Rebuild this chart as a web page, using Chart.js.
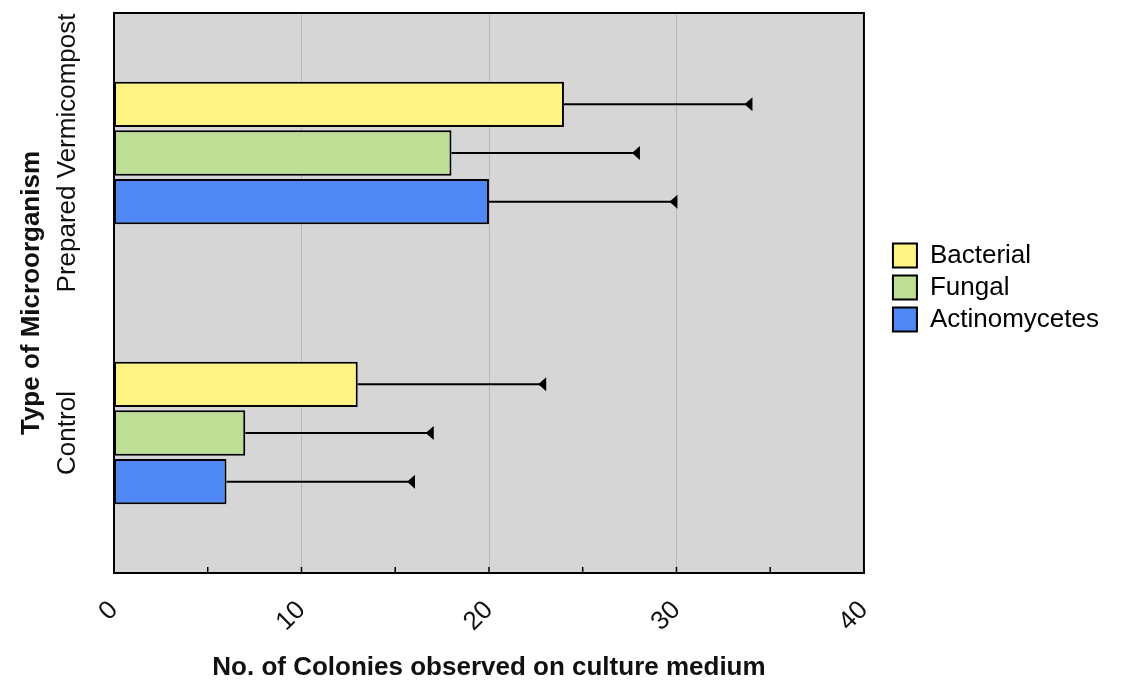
<!DOCTYPE html>
<html>
<head>
<meta charset="utf-8">
<script src="https://cdn.jsdelivr.net/npm/chart.js@4"></script>
<style>
  html, body { margin: 0; padding: 0; background: #ffffff; }
  #wrap { width: 1121px; height: 684px; }
</style>
</head>
<body>
<div id="wrap"><canvas id="c" width="1121" height="684"></canvas></div>
<script>
// Sample categories and colony counts per microorganism type
const categories = ['Prepared Vermicompost', 'Control'];
const seriesNames = ['Bacterial', 'Fungal', 'Actinomycetes'];
const bacterial = [24, 13];
const fungal = [18, 7];
const actinomycetes = [20, 6];
// Upper error values (one-sided)
const bacterialErr = [10, 10];
const fungalErr = [10, 10];
const actinomycetesErr = [10, 10];
const xTicks = [0, 10, 20, 30, 40];
const minorTicks = [5, 15, 25, 35];

const FONT = "'Liberation Sans', Arial, Helvetica, sans-serif";
const colors = ['#fff383', '#bedd95', '#4f87f5'];
const errors = [bacterialErr, fungalErr, actinomycetesErr];

// nudge the legend block next to the plot
const legendNudge = {
  id: 'legendNudge',
  afterLayout(chart) {
    const lg = chart.legend;
    if (!lg) return;
    lg.left += 23; lg.right += 23;
    lg.top -= 61; lg.bottom -= 61;
  }
};

const plotDecor = {
  id: 'plotDecor',
  beforeDatasetsDraw(chart) {
    const { ctx, chartArea: a } = chart;
    ctx.save();
    ctx.fillStyle = '#d6d6d6';
    ctx.fillRect(a.left, a.top, a.right - a.left, a.bottom - a.top);
    // grid lines at labelled ticks
    const xs = chart.scales.x;
    ctx.strokeStyle = '#b8b8b8';
    ctx.lineWidth = 1;
    xTicks.slice(1, -1).forEach(v => {
      const px = Math.round(xs.getPixelForValue(v)) + 0.5;
      ctx.beginPath(); ctx.moveTo(px, a.top); ctx.lineTo(px, a.bottom); ctx.stroke();
    });
    ctx.restore();
  },
  afterDatasetsDraw(chart) {
    const { ctx, chartArea: a } = chart;
    const xs = chart.scales.x;
    const ys = chart.scales.y;
    ctx.save();
    // error bars with left-pointing caps
    chart.data.datasets.forEach((ds, i) => {
      const meta = chart.getDatasetMeta(i);
      meta.data.forEach((bar, j) => {
        const x0 = xs.getPixelForValue(ds.data[j]);
        const x1 = xs.getPixelForValue(ds.data[j] + errors[i][j]);
        const y = bar.y;
        ctx.strokeStyle = '#000';
        ctx.lineWidth = 2;
        ctx.beginPath(); ctx.moveTo(x0, y); ctx.lineTo(x1, y); ctx.stroke();
        ctx.fillStyle = '#000';
        ctx.beginPath();
        ctx.moveTo(x1 + 1, y - 7);
        ctx.lineTo(x1 + 1, y + 7);
        ctx.lineTo(x1 - 7, y);
        ctx.closePath();
        ctx.fill();
      });
    });
    // tick marks on the bottom axis
    ctx.strokeStyle = '#000';
    ctx.lineWidth = 1.5;
    xTicks.concat(minorTicks).forEach(v => {
      const px = xs.getPixelForValue(v);
      ctx.beginPath(); ctx.moveTo(px, a.bottom); ctx.lineTo(px, a.bottom - 6); ctx.stroke();
    });
    // frame
    ctx.lineWidth = 2;
    ctx.strokeStyle = '#000';
    ctx.strokeRect(a.left, a.top, a.right - a.left, a.bottom - a.top);
    // category labels, rotated
    ctx.fillStyle = '#111';
    ctx.font = '26px ' + FONT;
    ctx.textAlign = 'center';
    ctx.textBaseline = 'middle';
    categories.forEach((c, k) => {
      const py = ys.getPixelForValue(k);
      ctx.save();
      ctx.translate(68, py);
      ctx.rotate(-Math.PI / 2);
      ctx.fillText(c, 0, 0);
      ctx.restore();
    });
    ctx.restore();
  }
};

new Chart(document.getElementById('c'), {
  type: 'bar',
  data: {
    labels: categories,
    datasets: [
      { label: seriesNames[0], data: bacterial, backgroundColor: colors[0] },
      { label: seriesNames[1], data: fungal, backgroundColor: colors[1] },
      { label: seriesNames[2], data: actinomycetes, backgroundColor: colors[2] }
    ].map(d => Object.assign(d, {
      borderColor: '#000', borderWidth: 2, borderSkipped: false,
      categoryPercentage: 0.522, barPercentage: 0.93
    }))
  },
  options: {
    indexAxis: 'y',
    responsive: false,
    animation: false,
    layout: { padding: { top: 13, right: 35, bottom: 0, left: 0 } },
    scales: {
      x: {
        min: 0, max: 40,
        afterBuildTicks(scale) { scale.ticks = xTicks.map(v => ({ value: v })); },
        afterFit(scale) { scale.height = 111; },
        grid: { display: false, drawTicks: false },
        border: { display: false },
        ticks: {
          minRotation: 45, maxRotation: 45, padding: 22,
          color: '#111', font: { family: FONT, size: 26 }
        },
        title: {
          display: true, text: 'No. of Colonies observed on culture medium',
          color: '#111', font: { family: FONT, size: 26, weight: 'bold' },
          padding: { top: 0, bottom: 1 }
        }
      },
      y: {
        afterFit(scale) { scale.width = 114; },
        grid: { display: false, drawTicks: false },
        border: { display: false },
        ticks: { display: false },
        title: {
          display: true, text: 'Type of Microorganism',
          color: '#111', font: { family: FONT, size: 26, weight: 'bold' },
          padding: { top: 16, bottom: 0 }
        }
      }
    },
    plugins: {
      legend: {
        position: 'right',
        labels: {
          boxWidth: 24, boxHeight: 24, padding: 6,
          color: '#111', font: { family: FONT, size: 26 },
          generateLabels(chart) {
            return chart.data.datasets.map((d, i) => ({
              text: d.label, fillStyle: d.backgroundColor, strokeStyle: '#000',
              lineWidth: 2, datasetIndex: i, hidden: false
            }));
          }
        }
      },
      tooltip: { enabled: false }
    }
  },
  plugins: [plotDecor, legendNudge]
});
</script>
</body>
</html>
